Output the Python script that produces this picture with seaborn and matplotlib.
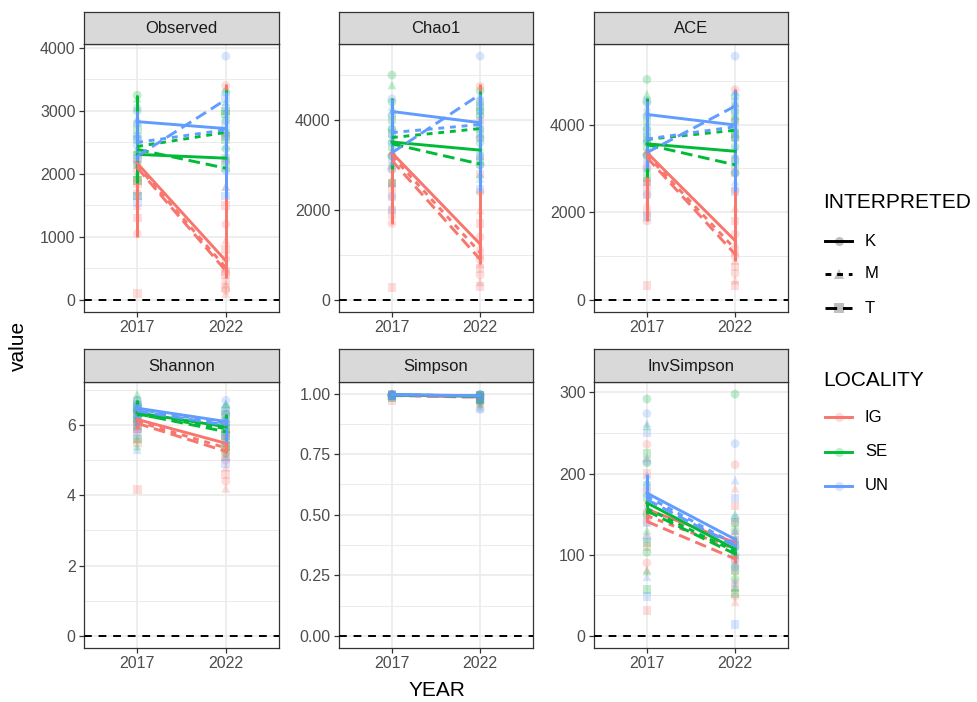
import matplotlib
matplotlib.use("Agg")
import matplotlib.pyplot as plt
import seaborn as sns
from matplotlib.lines import Line2D
from matplotlib.ticker import FormatStrFormatter, MultipleLocator
from pandas import DataFrame

METRICS = ["Observed", "Chao1", "ACE", "Shannon", "Simpson", "InvSimpson"]
YEARS = ["2017", "2022"]
LOCALITIES = ["IG", "SE", "UN"]
INTERPRETED = ["K", "M", "T"]

# single samples, listed per locality and year (interpreted cycles K, M, T)
OBS_IG_17 = [2200, 2150, 100, 2050, 1950, 1850, 1700, 1500, 1300, 1050, 2250, 1900]
OBS_SE_17 = [3250, 3200, 1650, 3000, 2850, 2700, 2550, 2400, 2300, 2150, 2000, 1900]
OBS_UN_17 = [3050, 2900, 1550, 2800, 2650, 2550, 2450, 2350, 2250, 2600, 2150, 1650]
OBS_IG_22 = [3400, 3000, 2600, 2200, 1800, 1500, 1200, 950, 800, 650, 500, 400,
             300, 250, 200, 150, 100, 450]
OBS_SE_22 = [3300, 3150, 3000, 2850, 2700, 2550, 2400, 2250, 2100, 2650, 2300, 2950]
OBS_UN_22 = [3870, 3350, 3200, 3050, 2900, 2750, 2600, 2450, 2250, 2050, 1800, 1650]

CHAO_IG_17 = [3200, 3050, 280, 2900, 2700, 2500, 2300, 2100, 1900, 1700, 3300, 2600]
CHAO_SE_17 = [5000, 4780, 3700, 4400, 4200, 4000, 3800, 3600, 3400, 3200, 3000, 2600]
CHAO_UN_17 = [4470, 4300, 2000, 4100, 3900, 3700, 3500, 3300, 3100, 2900, 2600, 2300]
CHAO_IG_22 = [4750, 4400, 4000, 3600, 3200, 2800, 2400, 2000, 1700, 1400, 1200, 1000,
              900, 800, 700, 550, 400, 300]
CHAO_SE_22 = [4650, 4500, 4300, 4100, 3900, 3700, 3500, 3300, 3100, 3000, 2800, 4200]
CHAO_UN_22 = [5420, 4570, 4400, 4200, 4000, 3800, 3600, 3400, 3200, 3000, 2700, 2450]

ACE_IG_17 = [3300, 3150, 320, 3000, 2800, 2600, 2400, 2200, 2000, 1800, 3400, 2700]
ACE_SE_17 = [5030, 4690, 3700, 4500, 4300, 4100, 3900, 3700, 3500, 3300, 3000, 2800]
ACE_UN_17 = [4550, 4400, 1900, 4200, 4000, 3800, 3600, 3400, 3200, 3000, 2700, 2400]
ACE_IG_22 = [4800, 4500, 4100, 3700, 3300, 2900, 2500, 2100, 1800, 1500, 1300, 1100,
             1000, 900, 750, 600, 450, 320]
ACE_SE_22 = [4650, 4500, 4300, 4100, 3900, 3700, 3500, 3300, 3100, 2900, 4200, 3800]
ACE_UN_22 = [5560, 4760, 4500, 4300, 4100, 3900, 3700, 3500, 3200, 2900, 2700, 2480]

SHA_IG_17 = [6.3, 6.2, 4.16, 6.1, 6.0, 5.9, 5.8, 5.6, 5.5, 6.4, 6.15, 5.95]
SHA_SE_17 = [6.7, 6.88, 6.5, 6.4, 6.3, 6.2, 6.1, 6.0, 5.6, 6.6, 5.4, 6.45]
SHA_UN_17 = [6.7, 6.6, 6.5, 6.4, 6.35, 6.3, 6.2, 6.1, 5.9, 5.7, 5.3, 6.55]
SHA_IG_22 = [6.3, 6.1, 5.9, 5.7, 5.5, 5.4, 5.3, 5.2, 5.1, 5.0, 4.8, 4.6, 4.4, 4.2,
             5.6, 5.35]
SHA_SE_22 = [6.5, 6.6, 6.3, 6.1, 6.0, 5.9, 5.8, 5.6, 5.4, 5.2, 6.2, 5.7]
SHA_UN_22 = [6.7, 6.6, 6.4, 6.3, 6.2, 6.1, 6.0, 5.9, 5.7, 5.5, 5.1, 4.9]

SIM_IG_17 = [0.995, 0.994, 0.97, 0.993, 0.996, 0.992, 0.99, 0.985, 0.997]
SIM_SE_17 = [0.996, 0.998, 0.994, 0.993, 0.995, 0.99, 0.992, 0.997, 0.985]
SIM_UN_17 = [0.997, 0.996, 0.995, 0.994, 0.993, 0.992, 0.99, 0.998, 0.988]
SIM_IG_22 = [0.995, 0.99, 0.985, 0.98, 0.975, 0.97, 0.96, 0.95, 0.993]
SIM_SE_22 = [0.996, 0.993, 0.99, 0.985, 0.98, 0.975, 0.97, 0.96, 0.992]
SIM_UN_22 = [0.997, 0.995, 0.993, 0.99, 0.985, 0.98, 0.935, 0.94, 0.975]

INV_IG_17 = [236, 220, 200, 180, 165, 150, 140, 125, 110, 90, 82, 31]
INV_SE_17 = [292, 259, 225, 213, 190, 170, 150, 130, 115, 103, 80, 57]
INV_UN_17 = [274, 262, 250, 215, 198, 185, 175, 160, 140, 120, 73, 49]
INV_IG_22 = [211, 182, 160, 140, 130, 120, 110, 100, 90, 80, 70, 60, 49, 42]
INV_SE_22 = [298, 150, 140, 130, 120, 110, 100, 90, 80, 70, 60, 52]
INV_UN_22 = [237, 192, 170, 145, 130, 118, 110, 100, 95, 85, 65, 14]

# trend end points, order IG-K, IG-M, IG-T, SE-K, SE-M, SE-T, UN-K, UN-M, UN-T
OBS_2017 = [2170, 2130, 2100, 2310, 2435, 2390, 2830, 2500, 2280]
OBS_2022 = [620, 510, 460, 2250, 2660, 2090, 2720, 2700, 3180]
CHAO_2017 = [3270, 3200, 3100, 3510, 3610, 3470, 4190, 3720, 3270]
CHAO_2022 = [1240, 1050, 900, 3330, 3810, 3020, 3940, 3900, 4570]
ACE_2017 = [3360, 3300, 3250, 3560, 3660, 3540, 4230, 3670, 3360]
ACE_2022 = [1350, 1160, 1040, 3390, 3870, 3080, 3990, 3950, 4420]
SHA_2017 = [6.16, 6.10, 6.05, 6.35, 6.30, 6.32, 6.48, 6.45, 6.40]
SHA_2022 = [5.48, 5.35, 5.25, 5.95, 5.90, 5.81, 6.10, 6.05, 6.00]
SIM_2017 = [0.994, 0.993, 0.992, 0.995, 0.995, 0.994, 0.996, 0.995, 0.995]
SIM_2022 = [0.988, 0.986, 0.985, 0.990, 0.989, 0.988, 0.991, 0.990, 0.990]
INV_2017 = [156, 148, 141, 164, 157, 154, 176, 172, 168]
INV_2022 = [115, 107, 95, 107, 104, 101, 119, 113, 111]

# vertical spans per locality: (lo 2017, hi 2017, lo 2022, hi 2022)
OBS_SPANS = [(1000, 2250, 350, 3430), (1850, 3250, 2250, 3330), (2200, 3000, 1620, 3300)]
CHAO_SPANS = [(1690, 3100, 800, 4800), (2900, 4500, 3000, 4650), (3000, 4470, 2420, 4570)]
ACE_SPANS = [(1800, 3300, 890, 4800), (2800, 4600, 3100, 4600), (3000, 4530, 2480, 4760)]
SHA_SPANS = [(5.9, 6.2, 5.2, 6.2), (6.1, 6.7, 5.8, 6.3), (6.0, 6.6, 5.5, 6.2)]
SIM_SPANS = [(0.99, 0.998, 0.985, 0.995), (0.99, 0.998, 0.985, 0.995), (0.99, 0.998, 0.985, 0.997)]
INV_SPANS = [(140, 160, 90, 120), (150, 170, 100, 112), (165, 200, 105, 122)]

POINTS = {
    "Observed": [OBS_IG_17, OBS_SE_17, OBS_UN_17, OBS_IG_22, OBS_SE_22, OBS_UN_22],
    "Chao1": [CHAO_IG_17, CHAO_SE_17, CHAO_UN_17, CHAO_IG_22, CHAO_SE_22, CHAO_UN_22],
    "ACE": [ACE_IG_17, ACE_SE_17, ACE_UN_17, ACE_IG_22, ACE_SE_22, ACE_UN_22],
    "Shannon": [SHA_IG_17, SHA_SE_17, SHA_UN_17, SHA_IG_22, SHA_SE_22, SHA_UN_22],
    "Simpson": [SIM_IG_17, SIM_SE_17, SIM_UN_17, SIM_IG_22, SIM_SE_22, SIM_UN_22],
    "InvSimpson": [INV_IG_17, INV_SE_17, INV_UN_17, INV_IG_22, INV_SE_22, INV_UN_22],
}
TRENDS = {
    "Observed": (OBS_2017, OBS_2022),
    "Chao1": (CHAO_2017, CHAO_2022),
    "ACE": (ACE_2017, ACE_2022),
    "Shannon": (SHA_2017, SHA_2022),
    "Simpson": (SIM_2017, SIM_2022),
    "InvSimpson": (INV_2017, INV_2022),
}
SPANS = {
    "Observed": OBS_SPANS, "Chao1": CHAO_SPANS, "ACE": ACE_SPANS,
    "Shannon": SHA_SPANS, "Simpson": SIM_SPANS, "InvSimpson": INV_SPANS,
}
STEPS = {"Observed": 1000, "Chao1": 2000, "ACE": 2000,
         "Shannon": 2, "Simpson": 0.25, "InvSimpson": 100}

PALETTE = {"IG": "#F8766D", "SE": "#00BA38", "UN": "#619CFF"}
MARKERS = {"K": "o", "M": "^", "T": "s"}
DASHES = {"K": "", "M": (2, 2), "T": (4, 2)}

# long tables
point_rows = []
for metric, lists in POINTS.items():
    for k, values in enumerate(lists):
        yi, li = divmod(k, 3)
        for j, v in enumerate(values):
            point_rows.append((metric, yi, LOCALITIES[li], INTERPRETED[j % 3], v))
points = DataFrame(point_rows, columns=["metric", "x", "LOCALITY", "INTERPRETED", "value"])

trend_rows = []
for metric, (start, end) in TRENDS.items():
    for i in range(9):
        loc, interp = LOCALITIES[i // 3], INTERPRETED[i % 3]
        trend_rows.append((metric, 0, loc, interp, start[i]))
        trend_rows.append((metric, 1, loc, interp, end[i]))
trends = DataFrame(trend_rows, columns=["metric", "x", "LOCALITY", "INTERPRETED", "value"])

plt.rcParams["font.family"] = ["Liberation Sans", "DejaVu Sans"]
W, H = 977, 702
fig = plt.figure(figsize=(W / 100, H / 100), dpi=100)

COLS = [(84, 279), (339, 533), (594, 788)]
ROWS = [(12, 44, 312), (349, 382, 648)]  # strip top, panel top, panel bottom
LW = 2.1

for n, metric in enumerate(METRICS):
    r, c = divmod(n, 3)
    x0, x1 = COLS[c]
    st, pt, pb = ROWS[r]
    ax = fig.add_axes([x0 / W, 1 - pb / H, (x1 - x0) / W, (pb - pt) / H])
    strip = fig.add_axes([x0 / W, 1 - pt / H, (x1 - x0) / W, (pt - st) / H])

    sub = points[points.metric == metric]
    sns.scatterplot(data=sub, x="x", y="value", hue="LOCALITY", style="INTERPRETED",
                    hue_order=LOCALITIES, style_order=INTERPRETED, palette=PALETTE,
                    markers=MARKERS, s=40, alpha=0.25, linewidth=0, legend=False,
                    ax=ax, zorder=2)
    for li, loc in enumerate(LOCALITIES):
        lo17, hi17, lo22, hi22 = SPANS[metric][li]
        ax.vlines([0, 1], [lo17, lo22], [hi17, hi22], colors=PALETTE[loc],
                  lw=LW, zorder=3)
    tsub = trends[trends.metric == metric]
    sns.lineplot(data=tsub, x="x", y="value", hue="LOCALITY", style="INTERPRETED",
                 hue_order=LOCALITIES, style_order=INTERPRETED, palette=PALETTE,
                 dashes=DASHES, estimator=None, linewidth=LW, legend=False,
                 ax=ax, zorder=4)
    ax.axhline(0, color="black", lw=1.4, ls=(0, (4, 3.5)), zorder=5)

    allv = list(sub.value) + list(tsub.value) + [v for s in SPANS[metric] for v in s] + [0]
    lo, hi = min(allv), max(allv)
    pad = 0.05 * (hi - lo)
    ax.set_ylim(lo - pad, hi + pad)
    ax.set_xlim(-0.6, 1.6)
    ax.set_xticks([0, 1], YEARS)
    ax.yaxis.set_major_locator(MultipleLocator(STEPS[metric]))
    ax.yaxis.set_minor_locator(MultipleLocator(STEPS[metric] / 2))
    if metric == "Simpson":
        ax.yaxis.set_major_formatter(FormatStrFormatter("%.2f"))
    ax.set_xlabel("")
    ax.set_ylabel("")
    ax.set_facecolor("white")
    ax.grid(which="major", color="#EBEBEB", lw=1.2)
    ax.grid(which="minor", axis="y", color="#EBEBEB", lw=0.7)
    ax.set_axisbelow(True)
    ax.tick_params(which="major", length=3.5, width=0.9, color="#333333",
                   labelsize=11.5, labelcolor="#4D4D4D", pad=2.5)
    ax.tick_params(which="minor", length=0)
    for sp in ax.spines.values():
        sp.set_color("#333333")
        sp.set_linewidth(0.9)

    strip.set_facecolor("#D9D9D9")
    strip.set_xticks([])
    strip.set_yticks([])
    for sp in strip.spines.values():
        sp.set_color("#333333")
        sp.set_linewidth(0.9)
    strip.text(0.5, 0.47, metric, ha="center", va="center", fontsize=12,
               color="#1A1A1A", transform=strip.transAxes)

fig.text(437 / W, 1 - 691 / H, "YEAR", ha="center", va="center", fontsize=15)
fig.text(18 / W, 1 - 346 / H, "value", ha="center", va="center", fontsize=15,
         rotation=90)


def legend_block(title, title_y, labels, rows_y, colors, styles, markers):
    fig.text(823 / W, 1 - title_y / H, title, ha="left", va="center", fontsize=15)
    for lab, y, col, ls, mk in zip(labels, rows_y, colors, styles, markers):
        fy = 1 - y / H
        fig.add_artist(Line2D([825 / W, 852 / W], [fy, fy], color=col, lw=LW, ls=ls,
                              transform=fig.transFigure))
        fig.add_artist(Line2D([838.5 / W], [fy], marker=mk, markersize=6.5,
                              markerfacecolor=col, markeredgewidth=0, alpha=0.25,
                              transform=fig.transFigure))
        fig.text(865 / W, fy, lab, ha="left", va="center", fontsize=12)


legend_block("INTERPRETED", 203, INTERPRETED, [241, 274, 308],
             ["black"] * 3,
             ["-" if DASHES[k] == "" else (0, DASHES[k]) for k in INTERPRETED],
             [MARKERS[k] for k in INTERPRETED])
legend_block("LOCALITY", 380, LOCALITIES, [417, 452, 486],
             [PALETTE[l] for l in LOCALITIES], ["-"] * 3, ["o"] * 3)

fig.savefig("out.png", dpi=100, facecolor="white")
